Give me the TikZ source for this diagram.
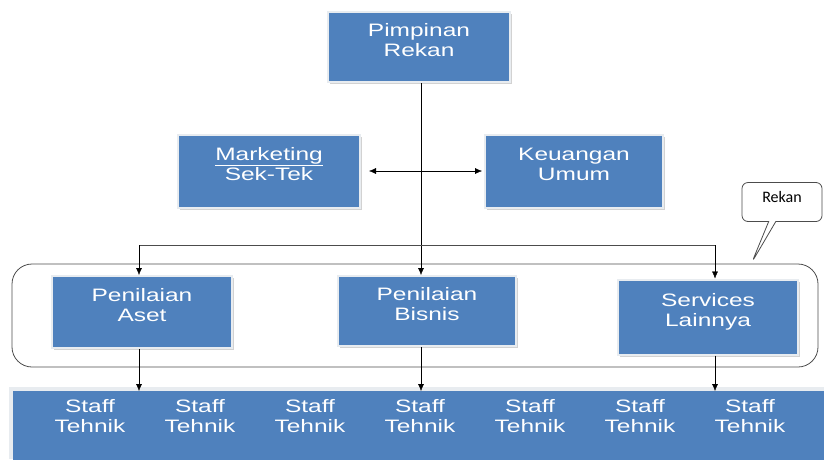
\documentclass[tikz,border=0pt]{standalone}
\usepackage{fontspec}
\usepackage{tikz}
\usetikzlibrary{positioning, arrows.meta, shadows, shapes.callouts}

\newfontfamily\boxfont[FakeStretch=1.36]{Liberation Sans}
\newfontfamily\notefont{Carlito}
\definecolor{unitblue}{RGB}{79,129,189}
\definecolor{unitedge}{RGB}{232,236,240}

\begin{document}
\begin{tikzpicture}[x=1pt, y=-1pt, >={Latex[length=7pt,width=6pt]},
  unit/.style={rectangle, fill=unitblue, draw=unitedge, line width=2pt,
    text=white, align=center, font=\boxfont\fontsize{18}{20}\selectfont,
    drop shadow={shadow xshift=2pt, shadow yshift=-2pt, fill=gray!70},
    text depth=14pt},
  wire/.style={draw=black!70, line width=0.8pt},
  staff/.style={text=white, align=center, font=\boxfont\fontsize{18}{20}\selectfont}]
\useasboundingbox (0,0) rectangle (824,459);

% units
\node[unit, minimum width=182pt, minimum height=70pt] at (419,47) (pimpinan) {Pimpinan\\Rekan} ;
\node[unit, minimum width=182pt, minimum height=73pt] at (269,171) (marketing) {\underline{Marketing}\\Sek-Tek} ;
\node[unit, minimum width=178pt, minimum height=73pt] at (574,171) (keuangan) {Keuangan\\Umum} ;

% group of services
\draw[wire, rounded corners=20pt] (12,264) rectangle (818,367) ;
\node[unit, minimum width=180pt, minimum height=72pt] at (142,312) (aset) {Penilaian\\Aset} ;
\node[unit, minimum width=178pt, minimum height=70pt] at (427,311) (bisnis) {Penilaian\\Bisnis} ;
\node[unit, minimum width=180pt, minimum height=75pt] at (708,317) (services) {Services\\Lainnya} ;

% staff row
\fill[unitedge] (9,387) rectangle (824,459) ;
\node[rectangle, fill=unitblue, minimum width=812pt, minimum height=70pt, anchor=north west] at (13,391) (row) {} ;
\foreach \i/\x in {1/90, 2/200, 3/310, 4/420, 5/530, 6/640, 7/750}
  \node[staff] at (\x,416) (staff\i) {Staff\\Tehnik} ;

% connectors
\coordinate (hub) at (421,245) ;
\coordinate (jA) at (139,245) ;
\coordinate (jS) at (715,245) ;
\draw[->] (pimpinan.south -| hub) -- (hub |- bisnis.north) ;
\draw[wire] (jA) -- (jS) ;
\draw[->] (jA) -- (jA |- aset.north) ;
\draw[->] (jS) -- (jS |- services.north) ;
\draw[<->, shorten <=8pt, shorten >=2pt] (marketing.east) -- (keuangan.west) ;
\draw[->] (jA |- aset.south) -- (jA |- row.north) ;
\draw[->] (hub |- bisnis.south) -- (hub |- row.north) ;
\draw[->] (jS |- services.south) -- (jS |- row.north) ;

% note
\node[rectangle callout, rounded corners=6pt, draw=black!70, fill=white, line width=0.8pt,
  minimum width=80pt, minimum height=39pt, callout absolute pointer={(752,262)},
  text depth=10pt, font=\notefont\fontsize{16}{18}\selectfont] at (782,202) (note) {Rekan} ;
\end{tikzpicture}
\end{document}
